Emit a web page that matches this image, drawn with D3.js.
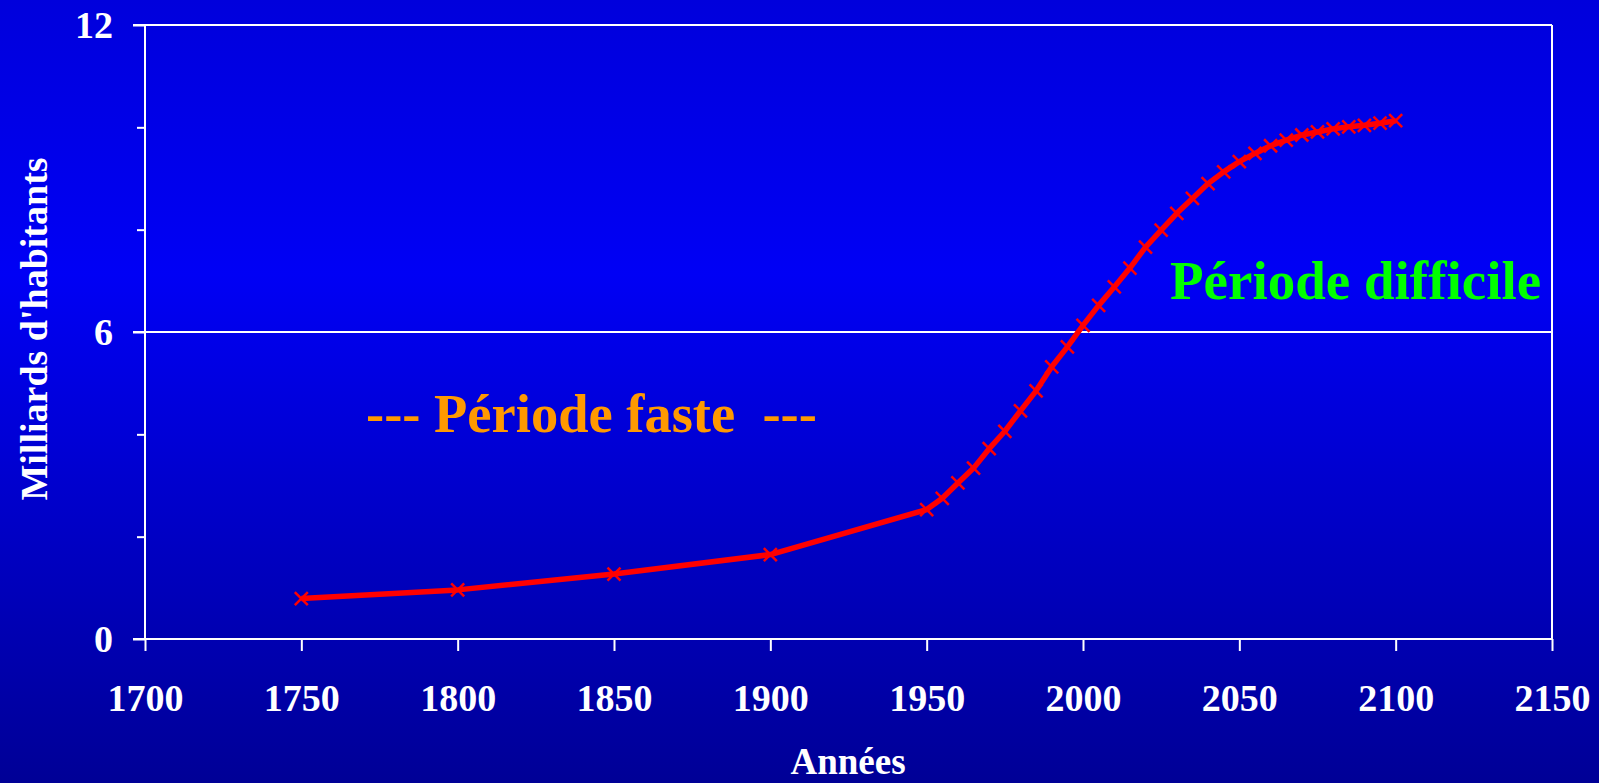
<!DOCTYPE html>
<html>
<head>
<meta charset="utf-8">
<script src="https://cdn.jsdelivr.net/npm/d3@7"></script>
<style>
  html, body { margin: 0; padding: 0; overflow: hidden; }
  svg { display: block; }
  text { font-family: "Liberation Serif", "Times New Roman", serif; font-weight: bold; }
</style>
</head>
<body>
<svg id="chart" width="1599" height="783"></svg>
<script>
// ---- data ----
const years = [1750, 1800, 1850, 1900, 1950, 1955, 1960, 1965, 1970, 1975, 1980, 1985, 1990, 1995,
  2000, 2005, 2010, 2015, 2020, 2025, 2030, 2035, 2040, 2045, 2050, 2055, 2060, 2065, 2070, 2075,
  2080, 2085, 2090, 2095, 2100];
const population = [0.79, 0.96, 1.27, 1.65, 2.53, 2.75, 3.05, 3.34, 3.72, 4.06, 4.46, 4.85, 5.32, 5.71,
  6.13, 6.52, 6.88, 7.25, 7.66, 7.99, 8.32, 8.61, 8.90, 9.13, 9.33, 9.49, 9.64, 9.75, 9.85, 9.91,
  9.97, 10.01, 10.04, 10.08, 10.13];
const xTickValues = [1700, 1750, 1800, 1850, 1900, 1950, 2000, 2050, 2100, 2150];
const yMajorTicks = [0, 6, 12];
const yMinorTicks = [2, 4, 8, 10];
const xTitle = "Années";
const yTitle = "Milliards d'habitants";
const noteGood = "--- Période faste  ---";
const noteBad = "Période difficile";

// ---- layout ----
const W = 1599, H = 783;
const svg = d3.select("#chart");

const defs = svg.append("defs");
const grad = defs.append("linearGradient").attr("id", "bg").attr("x1", 0).attr("y1", 0).attr("x2", 0).attr("y2", 1);
grad.append("stop").attr("offset", "0%").attr("stop-color", "#0000DC");
grad.append("stop").attr("offset", "35%").attr("stop-color", "#0000F5");
grad.append("stop").attr("offset", "100%").attr("stop-color", "#000096");
svg.append("rect").attr("width", W).attr("height", H).attr("fill", "url(#bg)");

const x = d3.scaleLinear().domain([1700, 2150]).range([145, 1552]);
const y = d3.scaleLinear().domain([0, 12]).range([639, 25]);

const white = "#FFFFFF";

// gridlines at major y values (6, 12)
svg.append("g").selectAll("line").data(yMajorTicks.filter(d => d > 0)).join("line")
  .attr("x1", x(1700) - 12).attr("x2", x(2150))
  .attr("y1", d => y(d)).attr("y2", d => y(d))
  .attr("stroke", white).attr("stroke-width", 2);

// right border
svg.append("line")
  .attr("x1", x(2150)).attr("x2", x(2150))
  .attr("y1", y(12)).attr("y2", y(0))
  .attr("stroke", white).attr("stroke-width", 2);

// y axis (major)
const yAxis = svg.append("g").attr("transform", `translate(${x(1700)},0)`)
  .call(d3.axisLeft(y).tickValues(yMajorTicks).tickSize(12).tickPadding(20).tickFormat(d3.format("d")));
// y axis minor
const yAxisMinor = svg.append("g").attr("transform", `translate(${x(1700)},0)`)
  .call(d3.axisLeft(y).tickValues(yMinorTicks).tickSize(8).tickFormat(""));
yAxisMinor.select(".domain").remove();

// x axis
const xAxis = svg.append("g").attr("transform", `translate(0,${y(0)})`)
  .call(d3.axisBottom(x).tickValues(xTickValues).tickSize(12).tickPadding(33).tickFormat(d3.format("d")));

[yAxis, yAxisMinor, xAxis].forEach(g => {
  g.selectAll("line").attr("stroke", white).attr("stroke-width", 2);
  g.selectAll(".domain").attr("stroke", white).attr("stroke-width", 2);
  g.selectAll("text").attr("fill", white).style("font-size", "38px")
    .style("font-family", "'Liberation Serif', serif").style("font-weight", "bold");
});
yAxis.select(".domain").attr("d", `M0,${y(12)}V${y(0)}`);
xAxis.select(".domain").attr("d", `M${x(1700) - 12},0H${x(2150)}`);

// ---- series ----
const pts = years.map((yr, i) => ({ yr, v: population[i] }));
const line = d3.line().x(d => x(d.yr)).y(d => y(d.v));
svg.append("path").datum(pts)
  .attr("d", line)
  .attr("fill", "none").attr("stroke", "#FF0000").attr("stroke-width", 5.5)
  .attr("stroke-linejoin", "round");

const s = 6.5;
svg.append("g").selectAll("path").data(pts).join("path")
  .attr("d", d => {
    const cx = x(d.yr), cy = y(d.v);
    return `M${cx - s},${cy - s}L${cx + s},${cy + s}M${cx - s},${cy + s}L${cx + s},${cy - s}`;
  })
  .attr("stroke", "#FF0000").attr("stroke-width", 2.5).attr("fill", "none");

// ---- annotations ----
svg.append("text").attr("x", 366).attr("y", 432)
  .attr("fill", "#FF9900").style("font-size", "54.5px").style("white-space", "pre")
  .attr("xml:space", "preserve")
  .text(noteGood);

svg.append("text").attr("x", 1170).attr("y", 299)
  .attr("fill", "#00FF00").style("font-size", "55px")
  .text(noteBad);

// ---- titles ----
svg.append("text").attr("x", 848).attr("y", 774).attr("text-anchor", "middle")
  .attr("fill", white).style("font-size", "37px").text(xTitle);

svg.append("text")
  .attr("transform", `translate(47,329) rotate(-90)`)
  .attr("text-anchor", "middle")
  .attr("fill", white).style("font-size", "38px").text(yTitle);
</script>
</body>
</html>
